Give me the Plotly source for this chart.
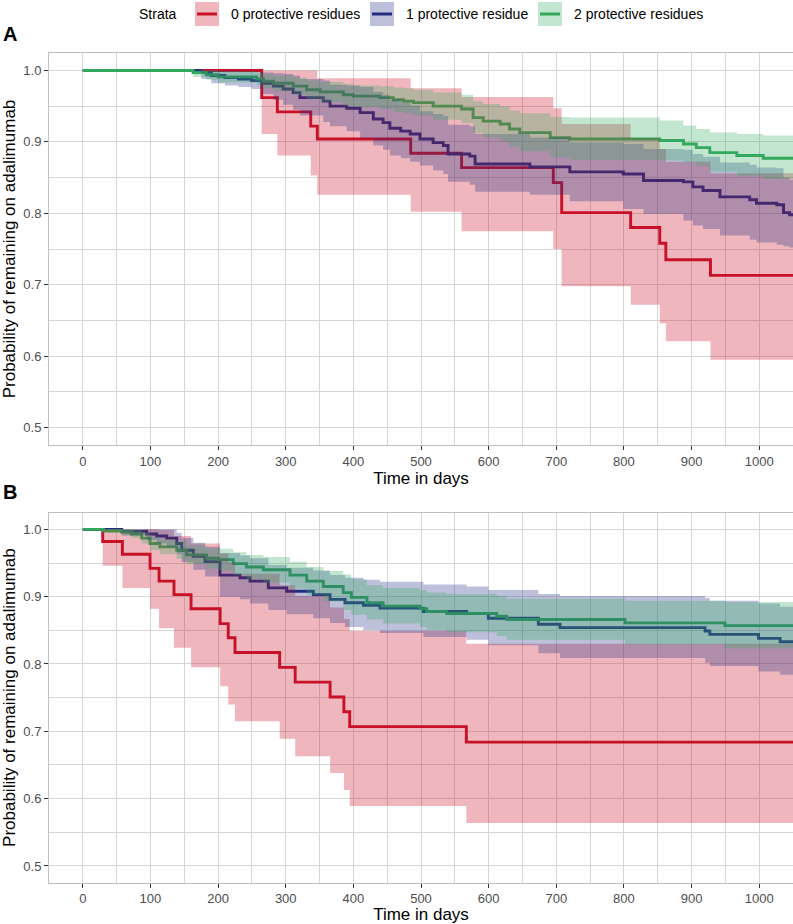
import plotly.graph_objects as go

W, H = 793, 924
END_TIME = 1060

STRATA = ["0 protective residues", "1 protective residue", "2 protective residues"]
LINE_COLORS = ["rgb(200,16,40)", "rgb(33,45,128)", "rgb(50,168,92)"]
FILL_COLORS = ["rgba(202,18,38,0.3)", "rgba(32,45,132,0.3)", "rgba(52,172,95,0.3)"]

X_TICKS = [0, 100, 200, 300, 400, 500, 600, 700, 800, 900, 1000]
Y_TICKS = [0.5, 0.6, 0.7, 0.8, 0.9, 1.0]
Y_TICK_LABELS = ["0.5", "0.6", "0.7", "0.8", "0.9", "1.0"]

# ---------------- Panel A ----------------
A0_time = [0, 264.5, 287.6, 337, 346.7, 484.8, 560, 695.6, 708, 810, 853, 862, 928]
A0_surv = [1.0, 0.962, 0.942, 0.922, 0.904, 0.884, 0.864, 0.843, 0.801, 0.780, 0.758, 0.735, 0.713]
A0_lower = [1.0, 0.911, 0.881, 0.853, 0.826, 0.802, 0.775, 0.750, 0.698, 0.672, 0.646, 0.621, 0.595]
A0_upper = [1.0, 1.0, 1.0, 1.0, 0.989, 0.975, 0.963, 0.947, 0.925, 0.905, 0.890, 0.872, 0.856]

A1_time = [0, 175, 190, 210, 230, 249.7, 265, 281.7, 296, 311, 321, 355.6, 365.5, 390, 410,
           429.5, 444, 454, 470, 484, 498.5, 518, 533, 540, 572, 580, 661, 720, 799, 829,
           888, 902, 917, 942, 986, 996, 1026, 1036, 1045]
A1_surv = [1.0, 0.997, 0.993, 0.990, 0.988, 0.986, 0.982, 0.978, 0.974, 0.969, 0.962, 0.957,
           0.950, 0.947, 0.941, 0.932, 0.927, 0.919, 0.915, 0.911, 0.904, 0.899, 0.895, 0.883,
           0.880, 0.869, 0.865, 0.858, 0.855, 0.846, 0.844, 0.837, 0.832, 0.823, 0.819, 0.814,
           0.812, 0.801, 0.798]
A1_lower = [1.0, 0.988, 0.982, 0.979, 0.977, 0.974, 0.967, 0.959, 0.952, 0.945, 0.937, 0.928,
            0.922, 0.915, 0.905, 0.895, 0.889, 0.881, 0.877, 0.872, 0.867, 0.860, 0.855, 0.844,
            0.840, 0.830, 0.826, 0.817, 0.806, 0.799, 0.790, 0.783, 0.778, 0.769, 0.763, 0.759,
            0.756, 0.754, 0.752]
A1_upper = [1.0, 1.0, 1.0, 1.0, 0.999, 0.998, 0.997, 0.996, 0.995, 0.993, 0.988, 0.986,
            0.980, 0.979, 0.977, 0.970, 0.966, 0.959, 0.955, 0.951, 0.943, 0.939, 0.936, 0.924,
            0.922, 0.911, 0.906, 0.899, 0.897, 0.890, 0.889, 0.883, 0.879, 0.871, 0.868, 0.864,
            0.863, 0.850, 0.847]

A2_time = [0, 163, 183, 200, 257, 267, 282, 311, 331, 351, 385, 400, 439, 459, 474, 489,
           518, 560, 577, 592, 617, 631, 646, 691, 720, 853, 888, 907, 927, 967, 1006]
A2_surv = [1.0, 0.997, 0.994, 0.991, 0.988, 0.985, 0.982, 0.978, 0.973, 0.970, 0.966, 0.964,
           0.962, 0.959, 0.957, 0.955, 0.950, 0.946, 0.934, 0.929, 0.925, 0.918, 0.913, 0.906,
           0.904, 0.902, 0.897, 0.892, 0.885, 0.881, 0.877]
A2_lower = [1.0, 0.991, 0.987, 0.983, 0.979, 0.975, 0.971, 0.966, 0.960, 0.956, 0.951, 0.949,
            0.946, 0.942, 0.940, 0.937, 0.931, 0.926, 0.912, 0.906, 0.901, 0.893, 0.887, 0.878,
            0.875, 0.874, 0.871, 0.866, 0.858, 0.852, 0.848]
A2_upper = [1.0, 1.0, 1.0, 0.999, 0.997, 0.995, 0.993, 0.990, 0.986, 0.984, 0.981, 0.979,
            0.978, 0.976, 0.975, 0.973, 0.969, 0.966, 0.957, 0.953, 0.950, 0.944, 0.940, 0.935,
            0.934, 0.930, 0.923, 0.918, 0.913, 0.911, 0.909]

# ---------------- Panel B ----------------
B0_time = [0, 29.4, 58.5, 99.4, 112.7, 134.8, 160, 203, 215, 225, 291, 314, 365.6, 386, 394.6, 567]
B0_surv = [1.0, 0.982, 0.963, 0.942, 0.923, 0.903, 0.882, 0.860, 0.839, 0.817, 0.795, 0.773,
           0.751, 0.729, 0.707, 0.684]
B0_lower = [1.0, 0.946, 0.913, 0.882, 0.853, 0.824, 0.795, 0.767, 0.740, 0.715, 0.689, 0.663,
            0.638, 0.613, 0.589, 0.564]
B0_upper = [1.0, 1.0, 1.0, 1.0, 0.999, 0.990, 0.979, 0.964, 0.951, 0.934, 0.917, 0.901,
            0.884, 0.867, 0.849, 0.830]

B1_time = [0, 57.5, 94.4, 109.2, 124, 138.8, 146.2, 163.4, 180.7, 202.8, 232.4, 247.2, 274.3,
           301.4, 340.8, 365.5, 387.7, 414.8, 439.4, 503.5, 567.5, 599.6, 673.5, 705.5, 920,
           927, 999, 1031]
B1_surv = [1.0, 0.997, 0.993, 0.990, 0.987, 0.979, 0.969, 0.960, 0.952, 0.932, 0.928, 0.923,
           0.913, 0.908, 0.903, 0.896, 0.891, 0.887, 0.883, 0.878, 0.875, 0.868, 0.859, 0.854,
           0.849, 0.844, 0.838, 0.833]
B1_lower = [1.0, 0.991, 0.984, 0.979, 0.974, 0.963, 0.951, 0.940, 0.930, 0.900, 0.896, 0.890,
            0.880, 0.874, 0.868, 0.861, 0.855, 0.850, 0.846, 0.840, 0.836, 0.828, 0.816, 0.809,
            0.802, 0.797, 0.789, 0.784]
B1_upper = [1.0, 1.0, 1.0, 1.0, 1.0, 0.995, 0.987, 0.980, 0.974, 0.965, 0.961, 0.957,
            0.947, 0.943, 0.939, 0.932, 0.928, 0.925, 0.922, 0.918, 0.915, 0.910, 0.904, 0.901,
            0.898, 0.894, 0.890, 0.885]

B2_time = [0, 30.4, 57.5, 72, 87, 99.4, 114, 138.8, 153.6, 183, 200.4, 222.5, 242, 267, 306.3,
           331, 355.6, 385, 397, 420, 444, 498.5, 508.4, 538, 612, 626.7, 801.6, 949.4]
B2_surv = [1.0, 0.998, 0.996, 0.993, 0.987, 0.979, 0.974, 0.969, 0.962, 0.957, 0.955, 0.949,
           0.944, 0.940, 0.932, 0.923, 0.915, 0.906, 0.899, 0.891, 0.886, 0.882, 0.878, 0.875,
           0.871, 0.866, 0.861, 0.857]
B2_lower = [1.0, 0.994, 0.991, 0.987, 0.979, 0.969, 0.963, 0.956, 0.948, 0.942, 0.939, 0.932,
            0.926, 0.921, 0.912, 0.902, 0.893, 0.880, 0.873, 0.866, 0.860, 0.855, 0.851, 0.847,
            0.842, 0.836, 0.829, 0.823]
B2_upper = [1.0, 1.0, 1.0, 0.999, 0.995, 0.989, 0.985, 0.982, 0.976, 0.972, 0.971, 0.966,
            0.962, 0.959, 0.952, 0.944, 0.938, 0.933, 0.926, 0.917, 0.913, 0.910, 0.906, 0.904,
            0.901, 0.897, 0.894, 0.892]

PANELS = [
    ("x", "y", [(A0_time, A0_surv, A0_lower, A0_upper),
                (A1_time, A1_surv, A1_lower, A1_upper),
                (A2_time, A2_surv, A2_lower, A2_upper)]),
    ("x2", "y2", [(B0_time, B0_surv, B0_lower, B0_upper),
                  (B1_time, B1_surv, B1_lower, B1_upper),
                  (B2_time, B2_surv, B2_lower, B2_upper)]),
]


def ext(t, v):
    return list(t) + [END_TIME], list(v) + [v[-1]]


fig = go.Figure()
for xa, ya, curves in PANELS:
    # survival step lines first
    for i, (t, s, lo, hi) in enumerate(curves):
        tx, sx = ext(t, s)
        fig.add_trace(go.Scatter(x=tx, y=sx, mode="lines", line=dict(color=LINE_COLORS[i], width=2.9, shape="hv"),
                                 xaxis=xa, yaxis=ya, showlegend=False, name=STRATA[i], hoverinfo="skip"))
    # confidence ribbons drawn on top
    for i, (t, s, lo, hi) in enumerate(curves):
        tx, hx = ext(t, hi)
        _, lx = ext(t, lo)
        fig.add_trace(go.Scatter(x=tx, y=hx, mode="lines", line=dict(width=0, shape="hv", color=FILL_COLORS[i]),
                                 xaxis=xa, yaxis=ya, showlegend=False, hoverinfo="skip"))
        fig.add_trace(go.Scatter(x=tx, y=lx, mode="lines", line=dict(width=0, shape="hv", color=FILL_COLORS[i]),
                                 fill="tonexty", fillcolor=FILL_COLORS[i],
                                 xaxis=xa, yaxis=ya, showlegend=False, hoverinfo="skip"))

FONT = "Liberation Sans, Arial, Helvetica, sans-serif"
GRID = "#D6D6D6"
BORDER = "#C0C0C0"

def xaxis_cfg(anchor):
    return dict(anchor=anchor, domain=[49 / W, 1.0], range=[-50, 1050], tickmode="array",
                tickvals=X_TICKS, ticktext=[str(v) for v in X_TICKS],
                showgrid=True, gridcolor=GRID, gridwidth=1,
                minor=dict(dtick=50, tick0=50, showgrid=True, gridcolor=GRID, gridwidth=1, ticklen=0),
                ticks="outside", ticklen=4, tickcolor="#333333", tickwidth=1,
                tickfont=dict(size=13, color="#4D4D4D", family=FONT),
                showline=True, linecolor=BORDER, linewidth=1, mirror=True, zeroline=False,
                title=dict(text="Time in days", font=dict(size=17, color="#000000", family=FONT), standoff=2),
                automargin=False, fixedrange=True)

def yaxis_cfg(anchor, dom):
    return dict(anchor=anchor, domain=dom, range=[0.475, 1.025], tickmode="array",
                tickvals=Y_TICKS, ticktext=Y_TICK_LABELS,
                showgrid=True, gridcolor=GRID, gridwidth=1,
                minor=dict(dtick=0.05, tick0=0.55, showgrid=True, gridcolor=GRID, gridwidth=1, ticklen=0),
                ticks="outside", ticklen=4, tickcolor="#333333", tickwidth=1,
                tickfont=dict(size=13, color="#4D4D4D", family=FONT),
                showline=True, linecolor=BORDER, linewidth=1, mirror=True, zeroline=False,
                title=dict(text="Probability of remaining on adalimumab",
                           font=dict(size=17, color="#000000", family=FONT), standoff=4),
                automargin=False, fixedrange=True)

yA = [(H - 445.4) / H, (H - 52.6) / H]
yB = [(H - 882.8) / H, (H - 512.5) / H]

fig.update_layout(
    width=W, height=H,
    margin=dict(l=0, r=0, t=0, b=0),
    paper_bgcolor="white", plot_bgcolor="white",
    font=dict(family=FONT, color="#000000"),
    xaxis=xaxis_cfg("y"), yaxis=yaxis_cfg("x", yA),
    xaxis2=xaxis_cfg("y2"), yaxis2=yaxis_cfg("x2", yB),
    showlegend=False,
)

# manual legend (ggplot-style keys)
def px(x):
    return x / W

def py(y):
    return 1 - y / H

shapes = []
annotations = []
KEY_X = [195, 370, 538]
TEXT_X = [229, 404, 572]
for i in range(3):
    x0 = KEY_X[i]
    shapes.append(dict(type="rect", xref="paper", yref="paper", x0=px(x0), x1=px(x0 + 24),
                       y0=py(26), y1=py(2), fillcolor=FILL_COLORS[i], line=dict(width=0), layer="above"))
    shapes.append(dict(type="line", xref="paper", yref="paper", x0=px(x0 + 2), x1=px(x0 + 22),
                       y0=py(14), y1=py(14), line=dict(color=LINE_COLORS[i], width=3), layer="above"))
    annotations.append(dict(text=STRATA[i], xref="paper", yref="paper", x=px(TEXT_X[i]), y=py(14),
                            xanchor="left", yanchor="middle", showarrow=False,
                            font=dict(size=14, color="#000000", family=FONT)))
annotations.append(dict(text="Strata", xref="paper", yref="paper", x=px(137), y=py(14),
                        xanchor="left", yanchor="middle", showarrow=False,
                        font=dict(size=14, color="#000000", family=FONT)))
annotations.append(dict(text="<b>A</b>", xref="paper", yref="paper", x=px(1), y=py(34),
                        xanchor="left", yanchor="middle", showarrow=False,
                        font=dict(size=20, color="#000000", family=FONT)))
annotations.append(dict(text="<b>B</b>", xref="paper", yref="paper", x=px(1), y=py(492),
                        xanchor="left", yanchor="middle", showarrow=False,
                        font=dict(size=20, color="#000000", family=FONT)))
fig.update_layout(shapes=shapes, annotations=annotations)

fig.write_html("out.html",
               config={"displayModeBar": False, "staticPlot": False},
               post_script="document.body.style.margin='0';document.body.style.overflow='hidden';")
